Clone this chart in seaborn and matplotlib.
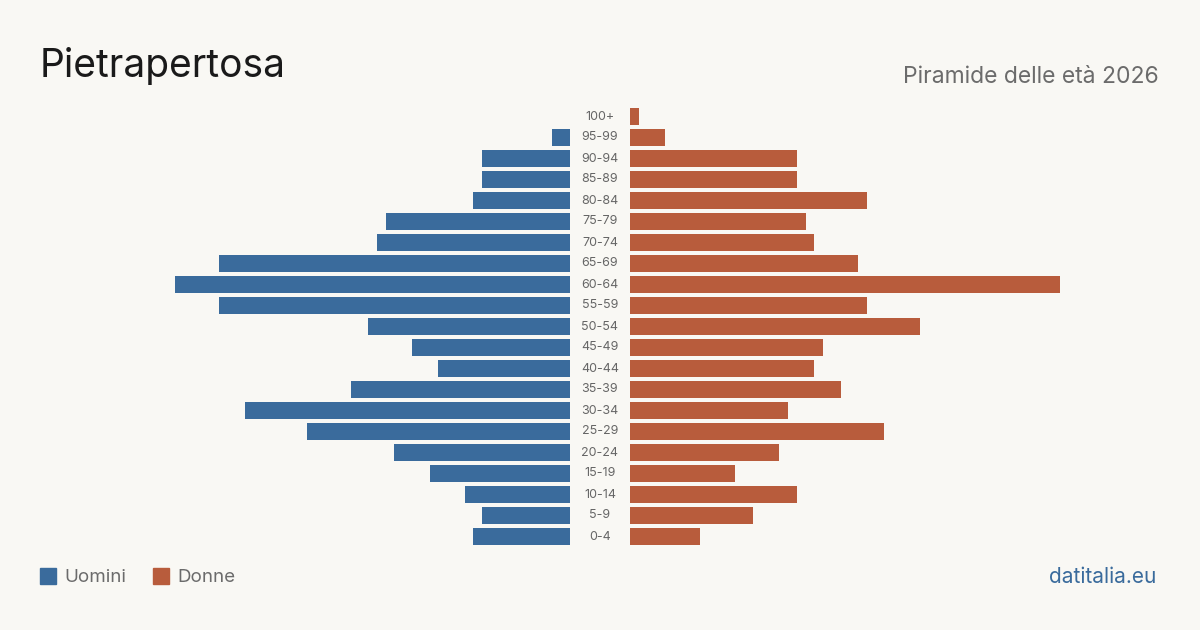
import matplotlib
matplotlib.use("Agg")
import matplotlib.pyplot as plt
import matplotlib.transforms as mtransforms
from matplotlib.patches import Rectangle
import seaborn as sns
import pandas as pd

# data (residents per age band)
age_groups = ["100+", "95-99", "90-94", "85-89", "80-84", "75-79", "70-74", "65-69",
              "60-64", "55-59", "50-54", "45-49", "40-44", "35-39", "30-34", "25-29",
              "20-24", "15-19", "10-14", "5-9", "0-4"]
uomini = [0, 2, 10, 10, 11, 21, 22, 40, 45, 40, 23, 18, 15, 25, 37, 30, 20, 16, 12, 10, 11]
donne = [1, 4, 19, 19, 27, 20, 21, 26, 49, 27, 33, 22, 21, 24, 18, 29, 17, 12, 19, 14, 8]

title = "Pietrapertosa"
subtitle = "Piramide delle età 2026"
source = "datitalia.eu"

BG = "#f9f8f4"
BLUE = "#3a6b9c"
ORANGE = "#b85c3c"

sns.set_style("white")
plt.rcParams['font.family'] = ['Inter', 'DejaVu Sans']

df = pd.DataFrame({"age": age_groups, "Uomini": uomini, "Donne": donne})
xmax = max(max(uomini), max(donne))

fig = plt.figure(figsize=(12, 6.3), dpi=100, facecolor=BG)
W, H = 1200, 630
bottom = 1 - 547 / H
height = 441 / H
ax_l = fig.add_axes([140 / W, bottom, 430 / W, height])
ax_r = fig.add_axes([630 / W, bottom, 430 / W, height])

sns.barplot(data=df, y="age", x="Uomini", order=age_groups, color=BLUE,
            saturation=1, width=0.82, linewidth=0, ax=ax_l)
sns.barplot(data=df, y="age", x="Donne", order=age_groups, color=ORANGE,
            saturation=1, width=0.82, linewidth=0, ax=ax_r)

ax_l.set_xlim(xmax, 0)
ax_r.set_xlim(0, xmax)
for ax in (ax_l, ax_r):
    ax.set_facecolor(BG)
    ax.set_xlabel("")
    ax.set_ylabel("")
    ax.set_xticks([])
    ax.set_yticks([])
    ax.set_ylim(len(age_groups) - 0.5, -0.5)
    for s in ax.spines.values():
        s.set_visible(False)

# age labels in the gap between the two halves
trans = mtransforms.blended_transform_factory(fig.transFigure, ax_r.transData)
for i, lab in enumerate(age_groups):
    fig.text(0.5, i, lab, transform=trans, ha="center", va="center",
             fontsize=9, color="#666666")

fig.text(40 / W, 1 - 66 / H, title, fontsize=28, color="#1a1a1a", va="center")
fig.text(1159 / W, 1 - 77 / H, subtitle, fontsize=16.5, color="#6b6b6b",
         ha="right", va="center")

# legend
fig.patches.append(Rectangle((40 / W, 1 - 584 / H), 16 / W, 16 / H,
                             transform=fig.transFigure, color=BLUE))
fig.text(64 / W, 1 - 577 / H, "Uomini", fontsize=13.5, color="#6b6b6b", va="center")
fig.patches.append(Rectangle((153 / W, 1 - 584 / H), 16 / W, 16 / H,
                             transform=fig.transFigure, color=ORANGE))
fig.text(177 / W, 1 - 577 / H, "Donne", fontsize=13.5, color="#6b6b6b", va="center")

fig.text(1156 / W, 1 - 577 / H, source, fontsize=15, color=BLUE, ha="right", va="center")

fig.savefig("out.png", dpi=100, facecolor=BG)
